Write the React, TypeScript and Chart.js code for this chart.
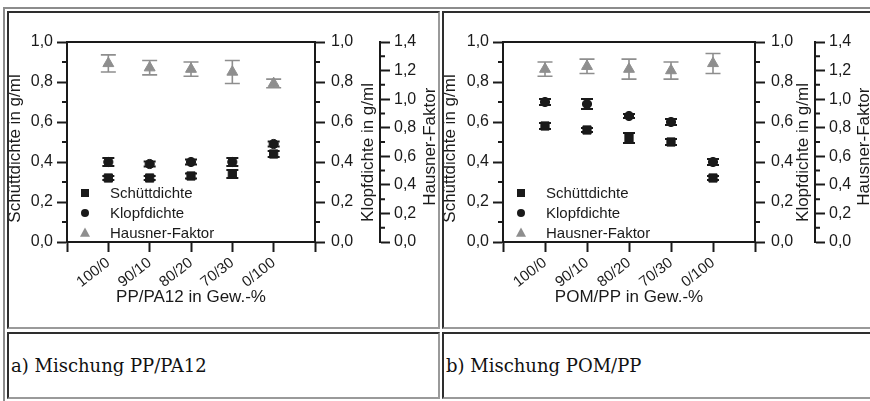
import React, { useEffect, useRef } from 'react';
import { Chart, registerables } from 'chart.js';

Chart.register(...registerables);

const FONT = '"Liberation Sans", Arial, Helvetica, sans-serif';
const INK = '#1a1a1a';
const GREY = '#8e8e8e';

// ---------- Panel a: PP/PA12 ----------
const CATEGORIES_A = ['100/0', '90/10', '80/20', '70/30', '0/100'];
const SCHUETT_A = [0.32, 0.32, 0.33, 0.34, 0.44];
const SCHUETT_A_ERR = [0.01, 0.01, 0.012, 0.02, 0.015];
const KLOPF_A = [0.40, 0.39, 0.40, 0.40, 0.49];
const KLOPF_A_ERR = [0.02, 0.012, 0.012, 0.02, 0.012];
const HAUSNER_A = [1.25, 1.22, 1.21, 1.19, 1.11];
const HAUSNER_A_ERR = [0.06, 0.05, 0.05, 0.08, 0.03];

// ---------- Panel b: POM/PP ----------
const CATEGORIES_B = ['100/0', '90/10', '80/20', '70/30', '0/100'];
const SCHUETT_B = [0.58, 0.56, 0.52, 0.50, 0.32];
const SCHUETT_B_ERR = [0.015, 0.01, 0.025, 0.015, 0.01];
const KLOPF_B = [0.70, 0.69, 0.63, 0.60, 0.40];
const KLOPF_B_ERR = [0.015, 0.025, 0.01, 0.015, 0.015];
const HAUSNER_B = [1.21, 1.23, 1.21, 1.20, 1.25];
const HAUSNER_B_ERR = [0.05, 0.05, 0.07, 0.06, 0.07];

const SERIES_LABELS = ['Schüttdichte', 'Klopfdichte', 'Hausner-Faktor'];
const Y_TITLE = 'Schüttdichte in g/ml';
const Y1_TITLE = 'Klopfdichte in g/ml';
const Y2_TITLE = 'Hausner-Faktor';
const X_TITLE_A = 'PP/PA12 in Gew.-%';
const X_TITLE_B = 'POM/PP in Gew.-%';
const CAPTION_A = 'a) Mischung PP/PA12';
const CAPTION_B = 'b) Mischung POM/PP';

const DENSITY_MAX = 1.0;
const HAUSNER_MAX = 1.4;
const MAJOR_STEP = 0.2;
const DENSITY_MINOR_TICKS = [0.1, 0.3, 0.5, 0.7, 0.9];
const HAUSNER_MINOR_TICKS = [0.1, 0.3, 0.5, 0.7, 0.9, 1.1, 1.3];

const fmt = (v: number) => Number(v).toFixed(1).replace('.', ',');

function drawMarker(ctx: CanvasRenderingContext2D, style: string, x: number, y: number, size: number, color: string) {
  ctx.fillStyle = color;
  ctx.beginPath();
  if (style === 'rect') {
    ctx.rect(x - size / 2, y - size / 2, size, size);
  } else if (style === 'circle') {
    ctx.arc(x, y, size / 2, 0, Math.PI * 2);
  } else {
    ctx.moveTo(x, y - size * 0.55);
    ctx.lineTo(x + size / 2, y + size * 0.38);
    ctx.lineTo(x - size / 2, y + size * 0.38);
    ctx.closePath();
  }
  ctx.fill();
}

const decorPlugin = {
  id: 'decor',
  beforeDatasetsDraw(chart: any) {
    const ctx = chart.ctx as CanvasRenderingContext2D;
    chart.data.datasets.forEach((ds: any, i: number) => {
      const meta = chart.getDatasetMeta(i);
      const ys = chart.scales[ds.yAxisID];
      if (!ds.errors) return;
      ctx.save();
      ctx.strokeStyle = ds.borderColor;
      ctx.lineWidth = ds.errLineWidth;
      meta.data.forEach((pt: any, j: number) => {
        const v = ds.data[j].y;
        const e = ds.errors[j];
        const yTop = ys.getPixelForValue(v + e);
        const yBot = ys.getPixelForValue(v - e);
        const x = pt.x;
        const hw = ds.capHalf;
        ctx.beginPath();
        ctx.moveTo(x, yTop);
        ctx.lineTo(x, yBot);
        ctx.moveTo(x - hw, yTop);
        ctx.lineTo(x + hw, yTop);
        ctx.moveTo(x - hw, yBot);
        ctx.lineTo(x + hw, yBot);
        ctx.stroke();
      });
      ctx.restore();
    });
  },
  afterDraw(chart: any, _args: any, opts: any) {
    const ctx = chart.ctx as CanvasRenderingContext2D;
    const ca = chart.chartArea;
    const { y, y1, y2 } = chart.scales;
    ctx.save();
    // top frame line
    ctx.strokeStyle = INK;
    ctx.lineWidth = 2;
    ctx.beginPath();
    ctx.moveTo(ca.left - 1, ca.top);
    ctx.lineTo(ca.right + 1, ca.top);
    ctx.stroke();
    // minor ticks
    ctx.beginPath();
    DENSITY_MINOR_TICKS.forEach((v) => {
      const py = y.getPixelForValue(v);
      ctx.moveTo(ca.left - 5, py);
      ctx.lineTo(ca.left, py);
      const py1 = y1.getPixelForValue(v);
      ctx.moveTo(y1.left, py1);
      ctx.lineTo(y1.left + 5, py1);
    });
    HAUSNER_MINOR_TICKS.forEach((v) => {
      const py = y2.getPixelForValue(v);
      ctx.moveTo(y2.left, py);
      ctx.lineTo(y2.left + 5, py);
    });
    ctx.stroke();

    // rotated axis titles (reading bottom to top)
    ctx.fillStyle = INK;
    ctx.font = `17px ${FONT}`;
    ctx.textAlign = 'center';
    ctx.textBaseline = 'middle';
    const cy = (ca.top + ca.bottom) / 2;
    const vt = (text: string, x: number, yy: number) => {
      ctx.save();
      ctx.translate(x, yy);
      ctx.rotate(-Math.PI / 2);
      ctx.fillText(text, 0, 0);
      ctx.restore();
    };
    vt(opts.yTitle, opts.leftX, cy + opts.leftDy);
    vt(opts.y1Title, y1.left + opts.y1Dx, cy + opts.y1Dy);
    vt(opts.y2Title, y2.left + opts.y2Dx, cy + opts.y2Dy);

    // legend inside plot area, lower left
    ctx.font = `15px ${FONT}`;
    ctx.textAlign = 'left';
    chart.data.datasets.forEach((ds: any, i: number) => {
      const ly = ca.bottom + opts.legendDy0 + i * opts.legendStep;
      drawMarker(ctx, ds.pointStyle, ca.left + opts.legendDx, ly, ds.legendSize, ds.borderColor);
      ctx.fillStyle = INK;
      ctx.fillText(ds.label, ca.left + opts.legendTextDx, ly + 0.5);
    });
    ctx.restore();
  },
};

type PanelProps = {
  left: number;
  top: number;
  width: number;
  height: number;
  plotLeft: number;
  plotWidth: number;
  plotTop: number;
  plotBottom: number;
  y1Width: number;
  y1Dx: number;
  y2Dx: number;
  categories: string[];
  schuett: number[];
  schuettErr: number[];
  klopf: number[];
  klopfErr: number[];
  hausner: number[];
  hausnerErr: number[];
  xTitle: string;
};

function Panel(p: PanelProps) {
  const ref = useRef<HTMLCanvasElement>(null);
  useEffect(() => {
    const mk = (label: string, vals: number[], errs: number[], axis: string, style: string, radius: number, color: string, capHalf: number, errLineWidth: number, legendSize: number) => ({
      label,
      data: vals.map((v, i) => ({ x: i + 1, y: v })),
      yAxisID: axis,
      pointStyle: style,
      pointRadius: radius,
      pointHoverRadius: radius,
      pointBackgroundColor: color,
      pointBorderColor: color,
      pointBorderWidth: 1,
      backgroundColor: color,
      borderColor: color,
      showLine: false,
      errors: errs,
      capHalf,
      errLineWidth,
      legendSize,
    });
    const tickFont = { family: FONT, size: 16 };
    const yCommon = {
      type: 'linear',
      min: 0,
      max: DENSITY_MAX,
      ticks: { stepSize: MAJOR_STEP, color: INK, font: tickFont, callback: (v: any) => fmt(v) },
      grid: { drawOnChartArea: false, drawTicks: true, tickLength: 10, tickWidth: 2, tickColor: INK },
      border: { display: true, color: INK, width: 2 },
      title: { display: false },
    };
    const chart = new Chart(ref.current as HTMLCanvasElement, {
      type: 'scatter',
      data: {
        datasets: [
          mk(SERIES_LABELS[0], p.schuett, p.schuettErr, 'y', 'rect', 5.8, INK, 6, 2, 8),
          mk(SERIES_LABELS[1], p.klopf, p.klopfErr, 'y1', 'circle', 4.6, INK, 6, 2, 8),
          mk(SERIES_LABELS[2], p.hausner, p.hausnerErr, 'y2', 'triangle', 6.3, GREY, 7.5, 1.6, 10),
        ] as any,
      },
      options: {
        responsive: false,
        animation: false,
        devicePixelRatio: 1,
        layout: { padding: { top: p.plotTop, left: 0, right: 0, bottom: 0 } },
        plugins: {
          legend: { display: false },
          tooltip: { enabled: false },
          decor: {
            yTitle: Y_TITLE,
            y1Title: Y1_TITLE,
            y2Title: Y2_TITLE,
            leftX: 6,
            leftDy: 6.5,
            y1Dx: p.y1Dx,
            y1Dy: 10.5,
            y2Dx: p.y2Dx,
            y2Dy: 4.7,
            legendDx: 18,
            legendTextDx: 43,
            legendDy0: -49,
            legendStep: 20,
          },
        } as any,
        scales: {
          x: {
            type: 'linear',
            position: 'bottom',
            min: 0,
            max: p.categories.length + 1,
            afterFit: (s: any) => {
              s.height = p.height - p.plotBottom;
            },
            ticks: {
              stepSize: 1,
              autoSkip: false,
              minRotation: 38,
              maxRotation: 38,
              padding: 2,
              color: INK,
              font: { family: FONT, size: 15 },
              callback: (v: any) => p.categories[Number(v) - 1] ?? '',
            },
            grid: { drawOnChartArea: false, drawTicks: true, tickLength: 10, tickWidth: 2, tickColor: INK },
            border: { display: true, color: INK, width: 2 },
            title: {
              display: true,
              text: p.xTitle,
              color: INK,
              font: { family: FONT, size: 17 },
              padding: { top: 0, bottom: 19 },
            },
          },
          y: {
            ...yCommon,
            position: 'left',
            ticks: { ...yCommon.ticks, padding: 4 },
            afterFit: (s: any) => {
              s.width = p.plotLeft;
            },
          },
          y1: {
            ...yCommon,
            position: 'right',
            weight: 1,
            ticks: { ...yCommon.ticks, padding: 6 },
            afterFit: (s: any) => {
              s.width = p.y1Width;
            },
          },
          y2: {
            ...yCommon,
            position: 'right',
            weight: 2,
            max: HAUSNER_MAX,
            ticks: { ...yCommon.ticks, padding: 4 },
            afterFit: (s: any) => {
              s.width = p.width - p.plotLeft - p.plotWidth - p.y1Width;
            },
          },
        } as any,
      },
      plugins: [decorPlugin as any],
    });
    return () => chart.destroy();
  }, []);
  return (
    <canvas
      ref={ref}
      width={p.width}
      height={p.height}
      style={{ position: 'absolute', left: p.left, top: p.top, width: p.width, height: p.height, display: 'block' }}
    />
  );
}

const DARK = '#2e2e2e';
const LIGHT = '#9a9a9a';

function Cell({ left, top, width, height }: { left: number; top: number; width: number; height: number }) {
  return (
    <div
      style={{
        position: 'absolute',
        left,
        top,
        width,
        height,
        boxSizing: 'border-box',
        borderTop: `2px solid ${DARK}`,
        borderLeft: `2px solid ${DARK}`,
        borderRight: `2px solid ${LIGHT}`,
        borderBottom: `2px solid ${LIGHT}`,
      }}
    />
  );
}

const captionStyle: React.CSSProperties = {
  position: 'absolute',
  top: 357,
  fontFamily: '"DejaVu Serif", "Liberation Serif", serif',
  fontSize: 18,
  lineHeight: '18px',
  color: '#111',
  whiteSpace: 'nowrap',
};

export default function App() {
  return (
    <div style={{ position: 'fixed', left: 0, top: 0, width: 870, height: 401, overflow: 'hidden', background: '#fff' }}>
      <div
        style={{
          position: 'absolute',
          left: 3,
          top: 7,
          width: 1000,
          height: 1000,
          boxSizing: 'border-box',
          borderTop: '2px solid #8c8c8c',
          borderLeft: '2px solid #8c8c8c',
        }}
      />
      <Cell left={7} top={11} width={433} height={318} />
      <Cell left={442} top={11} width={520} height={318} />
      <Cell left={7} top={332} width={433} height={67} />
      <Cell left={442} top={332} width={520} height={67} />
      <Panel
        left={9}
        top={13}
        width={429}
        height={314}
        plotLeft={58}
        plotWidth={248}
        plotTop={29}
        plotBottom={229}
        y1Width={65}
        y1Dx={53}
        y2Dx={50}
        categories={CATEGORIES_A}
        schuett={SCHUETT_A}
        schuettErr={SCHUETT_A_ERR}
        klopf={KLOPF_A}
        klopfErr={KLOPF_A_ERR}
        hausner={HAUSNER_A}
        hausnerErr={HAUSNER_A_ERR}
        xTitle={X_TITLE_A}
      />
      <Panel
        left={444}
        top={13}
        width={430}
        height={314}
        plotLeft={59}
        plotWidth={252}
        plotTop={29}
        plotBottom={229}
        y1Width={60}
        y1Dx={48}
        y2Dx={49}
        categories={CATEGORIES_B}
        schuett={SCHUETT_B}
        schuettErr={SCHUETT_B_ERR}
        klopf={KLOPF_B}
        klopfErr={KLOPF_B_ERR}
        hausner={HAUSNER_B}
        hausnerErr={HAUSNER_B_ERR}
        xTitle={X_TITLE_B}
      />
      <div style={{ ...captionStyle, left: 11 }}>{CAPTION_A}</div>
      <div style={{ ...captionStyle, left: 446 }}>{CAPTION_B}</div>
    </div>
  );
}
